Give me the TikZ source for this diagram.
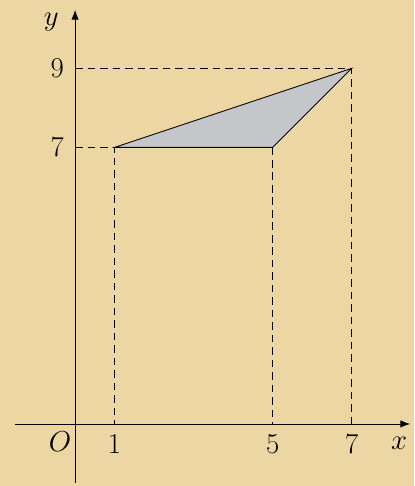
\documentclass[tikz,border=0pt]{standalone}
\usepackage{tikz}
\usetikzlibrary{arrows.meta}
\definecolor{papyrus}{RGB}{236,214,164}
\definecolor{shade}{RGB}{196,198,202}

\begin{document}
\begin{tikzpicture}[font=\fontsize{22}{26}\selectfont,guide/.style={dash pattern=on 5.5pt off 3.5pt,semithick}]
  \fill[papyrus] (-1.9,-1.57) rectangle (8.58,10.73);
  \useasboundingbox (-1.9,-1.57) rectangle (8.58,10.73);
  \draw[semithick,-{Latex[length=7pt]}] (-1.52,0)--(8.48,0); \node at (8.2,-0.5){$x$};
  \draw[semithick,-{Latex[length=7pt]}] (0,-1.49)--(0,10.48); \node at (-0.6,10.18){$y$};
  \node at (-0.38,-0.45){$O$};
  \coordinate (A) at (1,7); \coordinate (B) at (7,9); \coordinate (C) at (5,7);
  \draw[guide] (0,9)--(B)--(7,0); \draw[guide] (0,7)--(A)--(1,0); \draw[guide] (C)--(5,0);
  \filldraw[fill=shade,semithick] (A)--(B)--(C)--cycle;
  \node at (1,-0.5){$1$}; \node at (5,-0.5){$5$}; \node at (7,-0.5){$7$};
  \node at (-0.45,9){$9$}; \node at (-0.45,7){$7$};
\end{tikzpicture}
\end{document}
